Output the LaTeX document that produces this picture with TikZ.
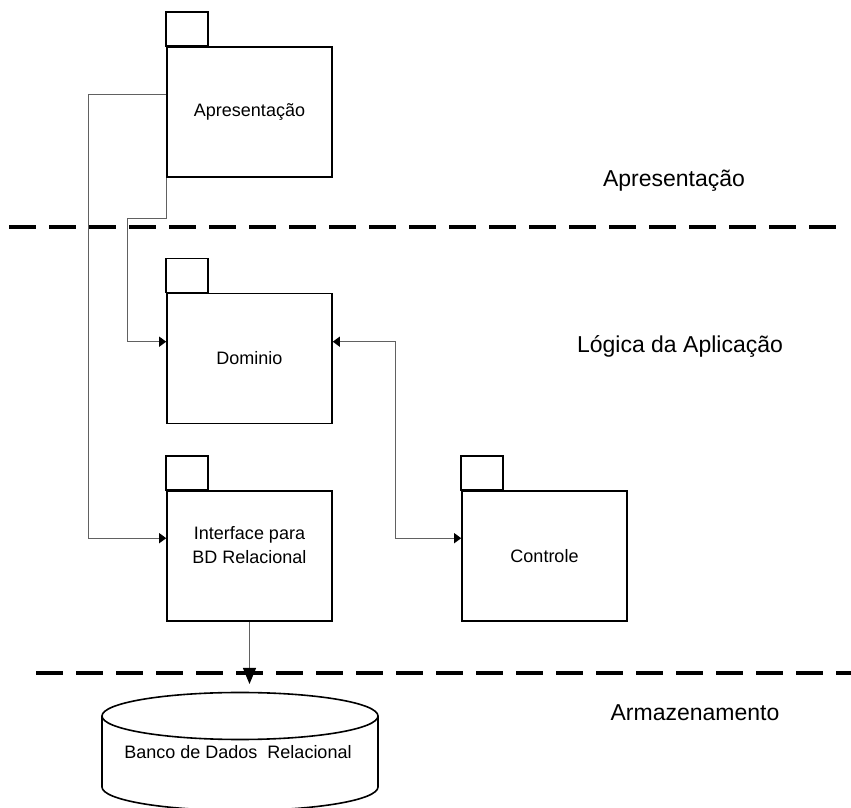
\documentclass[tikz,border=0pt]{standalone}
\usepackage{fontspec}
\setmainfont{Liberation Sans}
\usetikzlibrary{arrows.meta,calc}
\begin{document}
\begin{tikzpicture}[x=1pt,y=1pt,
  pkgbody/.style={draw=black, line width=1.6pt, minimum width=165pt, minimum height=130pt, inner sep=0pt, font=\fontsize{18}{24}\selectfont, align=center},
  pkgline/.style={draw=black, line width=1.6pt},
  boxtext/.style={font=\fontsize{18}{24}\selectfont, align=center, inner sep=0pt},
  layerlabel/.style={font=\fontsize{23}{27}\selectfont, inner sep=0pt},
  layerline/.style={line width=3.2pt, dash pattern=on 27pt off 13pt},
  conn/.style={draw=black!62, line width=1.1pt},
  smalltip/.style={-{Triangle[length=7pt,width=10pt,black]}},
  bothtip/.style={{Triangle[length=7pt,width=10pt,black]}-{Triangle[length=7pt,width=10pt,black]}},
  bigtip/.style={-{Triangle[length=16pt,width=13pt,black]}}
]
\useasboundingbox (0,0) rectangle (851,808);

% layer separators
\draw[layerline] (9,581) -- (840,581);
\draw[layerline] (36,135) -- (851,135);

% layer labels
\node[layerlabel] (lblapr) at (674,627) {Apresentação};
\node[layerlabel] (lbllog) at (680,462) {Lógica da Aplicação};
\node[layerlabel] (lblarm) at (695,95) {Armazenamento};

% packages
\node[pkgbody] (apr) at (249.5,696) {Apresentação};
\draw[pkgline] (apr.north west) rectangle ++(42,34);

\node[pkgbody] (dom) at (249.5,449.5) {Dominio};
\draw[pkgline] (dom.north west) rectangle ++(42,34);

\node[pkgbody] (ifc) at (249.5,252) {};
\node[boxtext] (ifctxt) at (249.5,263) {Interface para\\BD Relacional};
\draw[pkgline] (ifc.north west) rectangle ++(42,34);

\node[pkgbody] (ctl) at (544.5,252) {Controle};
\draw[pkgline] (ctl.north west) rectangle ++(42,34);

% database cylinder
\draw[pkgline, fill=white] (102,92) -- (102,21) arc[start angle=180, end angle=360, x radius=138, y radius=23.5] -- (378,92);
\draw[pkgline] (240,92) ellipse [x radius=138, y radius=23.5];
\node[boxtext] (db) at (238,56) {Banco de Dados\ \ Relacional};
\coordinate (dbtop) at (249.5,124);

% connectors
\draw[conn, smalltip] ([yshift=-48pt]apr.north west) -- ++(-78,0) |- ([yshift=-48pt]ifc.north west);
\draw[conn, smalltip] (apr.south west) -- ++(0,-41) -- ++(-39,0) |- ([yshift=-49pt]dom.north west);
\draw[conn, bothtip] ([yshift=-49pt]dom.north east) -- ++(63,0) |- ([yshift=-48pt]ctl.north west);
\draw[conn, bigtip] (ifc.south) -- (dbtop);
\end{tikzpicture}
\end{document}
